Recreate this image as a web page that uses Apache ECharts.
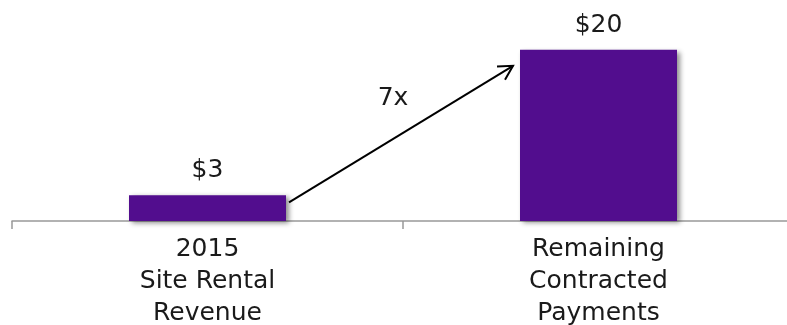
<!DOCTYPE html>
<html><head><meta charset="utf-8">
<script src="https://cdn.jsdelivr.net/npm/echarts@6/dist/echarts.min.js"></script>
<style>html,body{margin:0;padding:0;background:#fff}#c{width:787px;height:325px}</style>
</head><body><div id="c"></div>
<script>
const categories = ['2015\nSite Rental\nRevenue', 'Remaining\nContracted\nPayments'];
const values = [3, 20];
const valueLabels = ['$3', '$20'];
const multipleLabel = '7x';

const chart = echarts.init(document.getElementById('c'));
const FONT = 'DejaVu Sans';
const FS = 25;
const BAR_W = 157;
chart.setOption({
  animation: false,
  grid: { left: 12, width: 782, top: 7, height: 214, containLabel: false, outerBoundsMode: 'none' },
  xAxis: {
    type: 'category', data: categories,
    axisLine: { lineStyle: { color: '#999', width: 1.5 } },
    axisTick: { show: true, length: 8, lineStyle: { color: '#999', width: 1.5 } },
    axisLabel: { color: '#1a1a1a', fontFamily: FONT, fontSize: FS, lineHeight: 32, margin: 12, interval: 0 }
  },
  yAxis: { type: 'value', min: 0, max: 25, show: false },
  series: [{
    type: 'bar', data: values, barWidth: BAR_W,
    itemStyle: { color: '#520d8e', shadowColor: 'rgba(0,0,0,0.45)', shadowBlur: 5, shadowOffsetX: 3, shadowOffsetY: 2 },
    label: {
      show: true, position: 'top', distance: 12,
      formatter: p => valueLabels[p.dataIndex],
      color: '#1a1a1a', fontFamily: FONT, fontSize: FS
    }
  }]
});

function drawArrow() {
  const p0 = chart.convertToPixel({ seriesIndex: 0 }, [0, values[0]]);
  const p1 = chart.convertToPixel({ seriesIndex: 0 }, [1, values[1]]);
  const x0 = p0[0] + BAR_W / 2 + 3, y0 = p0[1] + 7;
  const x1 = p1[0] - BAR_W / 2 - 7, y1 = p1[1] + 16;
  const ang = Math.atan2(y1 - y0, x1 - x0);
  const L = 16, spread = 0.5;
  const h1 = [x1 - L * Math.cos(ang - spread), y1 - L * Math.sin(ang - spread)];
  const h2 = [x1 - L * Math.cos(ang + spread), y1 - L * Math.sin(ang + spread)];
  chart.setOption({
    graphic: [
      { type: 'line', shape: { x1: x0, y1: y0, x2: x1, y2: y1 }, style: { stroke: '#000', lineWidth: 2 } },
      { type: 'polyline', shape: { points: [h1, [x1, y1], h2] }, style: { stroke: '#000', lineWidth: 2, fill: null } },
      { type: 'text', x: (x0 + x1) / 2 - 8, y: (y0 + y1) / 2 - 36,
        style: { text: multipleLabel, fill: '#1a1a1a', font: FS + 'px "DejaVu Sans"', textAlign: 'center', textVerticalAlign: 'middle' } }
    ]
  });
}
drawArrow();
</script></body></html>
